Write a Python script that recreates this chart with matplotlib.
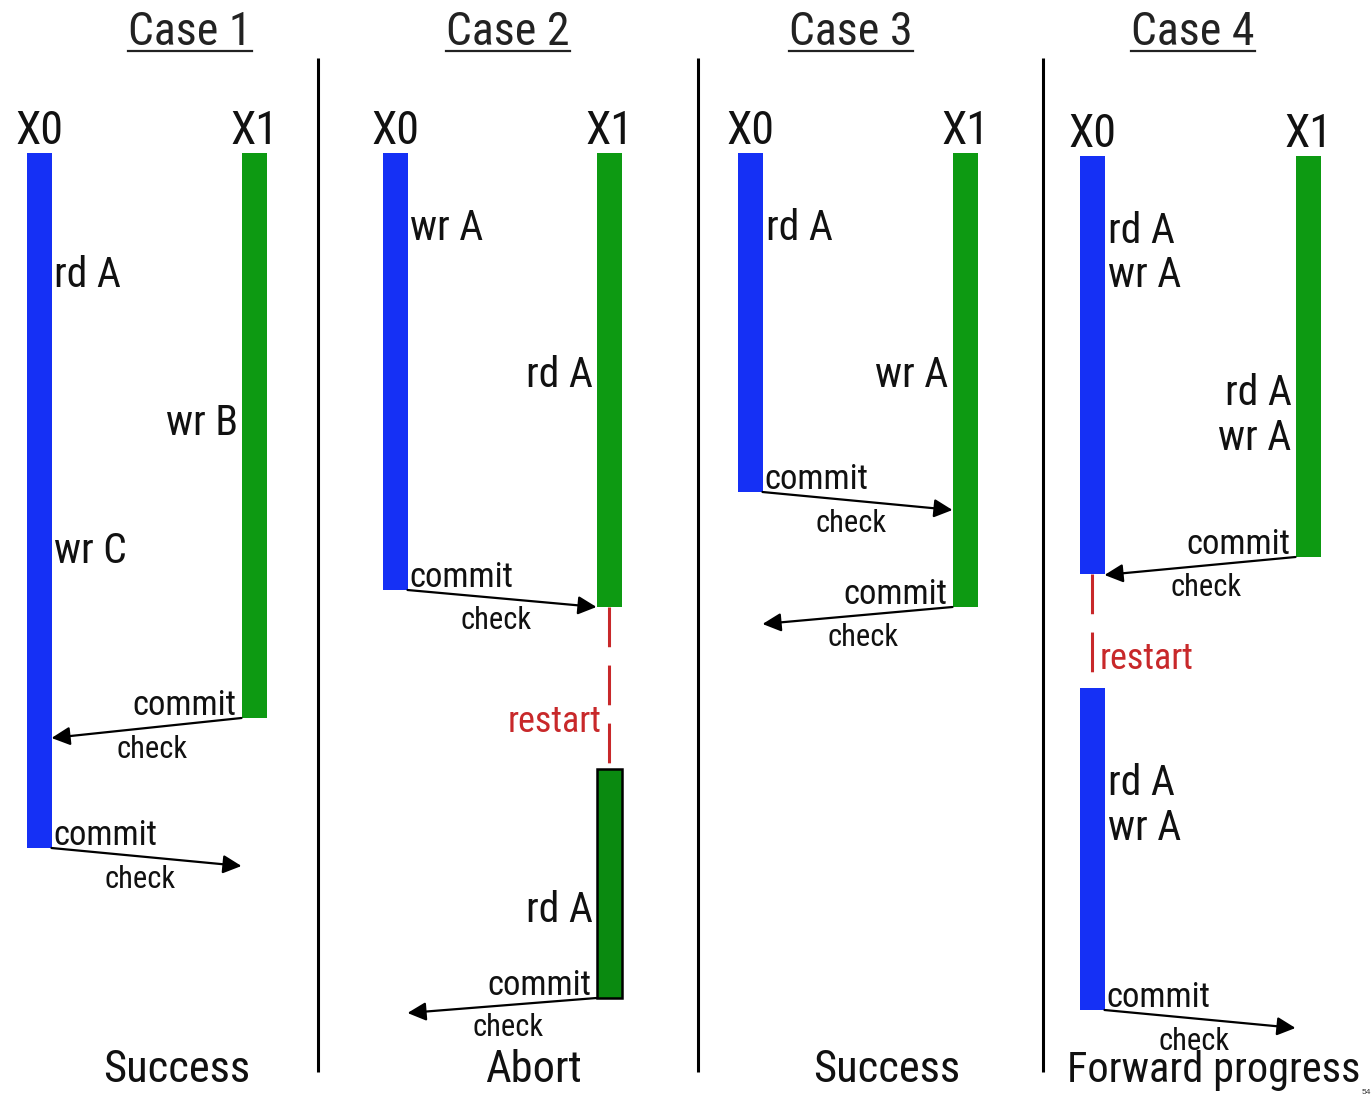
import matplotlib
matplotlib.use("Agg")
import os
import matplotlib.pyplot as plt
from matplotlib import font_manager
from matplotlib.font_manager import FontProperties

# pick a narrow sans face if one is installed (the slide uses a squeezed Arial look)
narrow_file = None
files = [f.fname for f in font_manager.fontManager.ttflist]
for key in ["LiberationSansNarrow-Regular", "RobotoCondensed-Regular",
            "DejaVuSansCondensed.ttf", "NotoSans-Condensed.ttf",
            "OpenSans_Condensed-Regular", "OpenSansCondensed"]:
    hits = [p for p in files if key.lower() in os.path.basename(p).lower()]
    if hits:
        narrow_file = hits[0]
        break
SCALE = 1.0 if narrow_file else 0.86
plt.rcParams["font.family"] = ["Liberation Sans", "DejaVu Sans"]


def fp(size):
    if narrow_file:
        return FontProperties(fname=narrow_file, size=size * SCALE)
    return FontProperties(family=["Liberation Sans", "DejaVu Sans"], size=size * SCALE)


# ---- diagram data (x = lane position, y = time, both in canvas units) ----
case_titles = ["Case 1", "Case 2", "Case 3", "Case 4"]
case_center = [190, 508, 851, 1193]
outcomes = ["Success", "Abort", "Success", "Forward progress"]
outcome_x = [177, 533, 887, 1214]
lane_x0 = [39, 395, 750, 1092]
lane_x1 = [254, 609, 965, 1308]
lane_top = [153, 153, 153, 156]
dividers = [318, 698, 1043]

# transaction bars
bar_case = [0, 0, 1, 1, 1, 2, 2, 3, 3, 3]
bar_thread = [0, 1, 0, 1, 1, 0, 1, 0, 1, 0]
bar_start = [153, 153, 153, 153, 769, 153, 153, 156, 156, 688]
bar_end = [848, 718, 590, 607, 998, 492, 607, 574, 557, 1010]
bar_outlined = [0, 0, 0, 0, 1, 0, 0, 0, 0, 0]

# read / write operations
op_case = [0, 0, 0, 1, 1, 1, 2, 2, 3, 3, 3, 3, 3, 3]
op_thread = [0, 1, 0, 0, 1, 1, 0, 1, 0, 0, 1, 1, 0, 0]
op_time = [272, 420, 548, 225, 372, 907, 225, 372, 228, 272, 390, 435, 780, 825]
op_text = ["rd A", "wr B", "wr C", "wr A", "rd A", "rd A", "rd A", "wr A",
           "rd A", "wr A", "rd A", "wr A", "rd A", "wr A"]

# commit -> check messages
msg_case = [0, 0, 1, 1, 2, 2, 3, 3]
msg_thread = [1, 0, 0, 1, 0, 1, 1, 0]
commit_time = [718, 848, 590, 998, 492, 607, 557, 1010]
check_time = [738, 866, 607, 1013, 510, 624, 575, 1028]

# restarts
restart_case = [1, 3]
restart_thread = [1, 0]
restart_from = [607, 574]
restart_to = [769, 688]
restart_label_y = [720, 657]

BLUE = "#1530f5"
GREEN = "#0d9a12"
GREEN_DARK = "#0a8a10"
RED = "#c8282a"
INK = "#111111"
HALF = 12.5

fig = plt.figure(figsize=(13.71, 10.96), dpi=100)
ax = fig.add_axes([0, 0, 1, 1])
ax.set_xlim(0, 1371)
ax.set_ylim(1096, 0)
ax.axis("off")


def lane(c, t):
    return lane_x0[c] if t == 0 else lane_x1[c]


# dividers
for x in dividers:
    ax.plot([x, x], [58, 1072], color="black", lw=2.2, solid_capstyle="butt")

# titles, lane names, outcomes
titles = []
for c, title in enumerate(case_titles):
    titles.append(ax.text(case_center[c], 45, title, fontproperties=fp(33),
                          ha="center", va="baseline", color="#222222"))
    ax.text(lane_x0[c], lane_top[c] - 9, "X0", fontproperties=fp(33),
            ha="center", va="baseline", color=INK)
    ax.text(lane_x1[c], lane_top[c] - 9, "X1", fontproperties=fp(33),
            ha="center", va="baseline", color=INK)
    size = 30.5 if len(outcomes[c]) > 10 else 32
    ax.text(outcome_x[c], 1082, outcomes[c], fontproperties=fp(size),
            ha="center", va="baseline", color=INK)

# underline titles using their drawn width
fig.canvas.draw()
renderer = fig.canvas.get_renderer()
inv = ax.transData.inverted()
for t in titles:
    bb = t.get_window_extent(renderer)
    (xa, _), (xb, _) = inv.transform([[bb.x0, 0], [bb.x1, 0]])
    ax.plot([xa, xb], [51, 51], color="#222222", lw=1.6)

# bars
for c, th, s, e, o in zip(bar_case, bar_thread, bar_start, bar_end, bar_outlined):
    x = lane(c, th)
    face = BLUE if th == 0 else (GREEN_DARK if o else GREEN)
    ax.add_patch(plt.Rectangle((x - HALF, s), 2 * HALF, e - s, facecolor=face,
                               edgecolor="black" if o else "none", lw=1.8 if o else 0))

# operations
for c, th, t, txt in zip(op_case, op_thread, op_time, op_text):
    x = lane(c, th)
    if th == 0:
        ax.text(x + HALF + 3, t + 15, txt, fontproperties=fp(30), ha="left",
                va="baseline", color=INK)
    else:
        ax.text(x - HALF - 4, t + 15, txt, fontproperties=fp(30), ha="right",
                va="baseline", color=INK)

# messages
for c, th, tc, tk in zip(msg_case, msg_thread, commit_time, check_time):
    xs = lane(c, th)
    xt = lane(c, 1 - th)
    d = 1 if xt > xs else -1
    x_start = xs + d * HALF
    x_end = xt - d * HALF
    ax.annotate("", xy=(x_end, tk), xytext=(x_start, tc),
                arrowprops=dict(arrowstyle="-|>", color="black", lw=1.6,
                                mutation_scale=28, shrinkA=0, shrinkB=0))
    if th == 0:
        ax.text(xs + HALF + 2, tc - 3, "commit", fontproperties=fp(25),
                ha="left", va="baseline", color=INK)
    else:
        ax.text(xs - HALF - 5, tc - 3, "commit", fontproperties=fp(25),
                ha="right", va="baseline", color=INK)
    ax.text((x_start + x_end) / 2 - 6 * d, (tc + tk) / 2 + 22, "check",
            fontproperties=fp(22), ha="center", va="center", color=INK)

# restarts
for c, th, a, b, ly in zip(restart_case, restart_thread, restart_from,
                           restart_to, restart_label_y):
    x = lane(c, th)
    ax.plot([x, x], [a, b], color=RED, lw=2.2, ls=(0, (13, 6)))
    if th == 0:
        ax.text(x + 8, ly + 12, "restart", fontproperties=fp(26), ha="left",
                va="baseline", color=RED)
    else:
        ax.text(x - 8, ly + 12, "restart", fontproperties=fp(26), ha="right",
                va="baseline", color=RED)

ax.text(1371, 1096, "54", fontsize=6, ha="right", va="bottom", color="#333333")

fig.savefig("out.png", dpi=100)
